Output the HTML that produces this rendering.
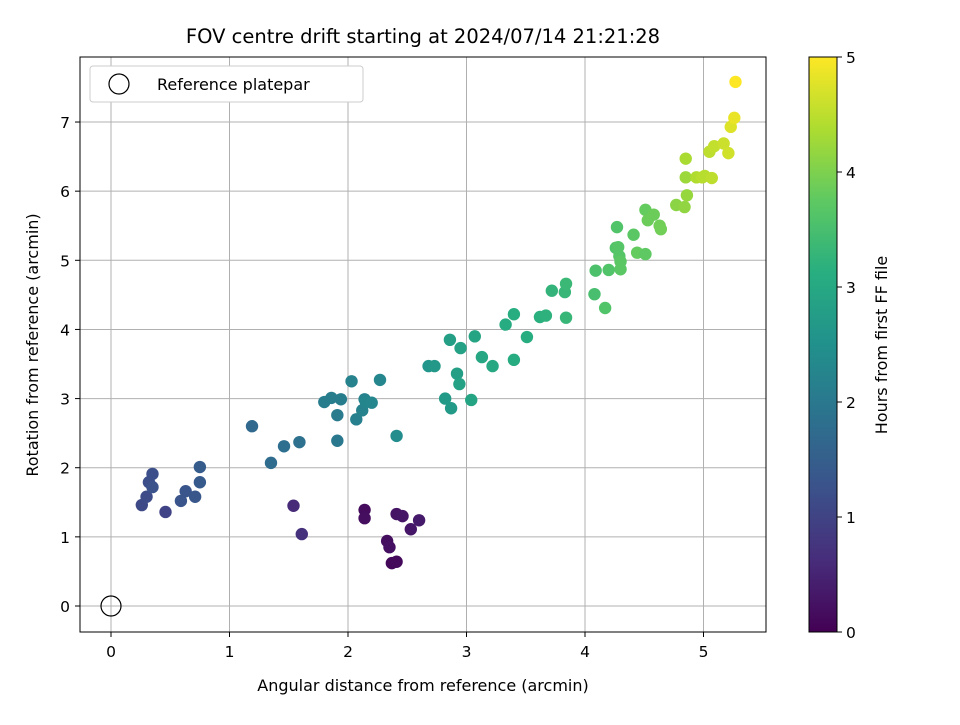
<!DOCTYPE html>
<html><head><meta charset="utf-8"><style>
body{margin:0;background:#fff;font-family:"Liberation Sans","DejaVu Sans",sans-serif}
svg text{font-family:"DejaVu Sans","Liberation Sans",sans-serif;fill:#000}
</style></head><body>
<svg id="chart" width="960" height="720" xmlns="http://www.w3.org/2000/svg">
<defs><linearGradient id="vir" x1="0" y1="1" x2="0" y2="0">
<stop offset="0" stop-color="#440154"/><stop offset="0.125" stop-color="#472d7b"/><stop offset="0.25" stop-color="#3b528b"/><stop offset="0.375" stop-color="#2c728e"/><stop offset="0.5" stop-color="#21918c"/><stop offset="0.625" stop-color="#28ae80"/><stop offset="0.75" stop-color="#5ec962"/><stop offset="0.875" stop-color="#addc30"/><stop offset="1" stop-color="#fde725"/></linearGradient></defs>
<g id="grid"></g>
<g id="pts"></g>
<rect x="80" y="57" width="686" height="575" fill="none" stroke="#000" stroke-width="1"/>
<g id="axes"></g>
<text x="423" y="43" font-size="19.5" text-anchor="middle">FOV centre drift starting at 2024/07/14 21:21:28</text>
<text x="423" y="691" font-size="16" text-anchor="middle">Angular distance from reference (arcmin)</text>
<text transform="translate(38,345) rotate(-90)" font-size="16" text-anchor="middle">Rotation from reference (arcmin)</text>
<g>
<rect x="90" y="66" width="273" height="36" rx="3" fill="#fff" stroke="#ccc"/>
<circle cx="119" cy="84" r="10" fill="none" stroke="#000" stroke-width="1.2"/>
<text x="157" y="90" font-size="16">Reference platepar</text></g>
<rect x="809" y="57" width="28" height="575" fill="url(#vir)" stroke="#000"/>
<g id="cb"></g>
<text transform="translate(887,345) rotate(-90)" font-size="16" text-anchor="middle">Hours from first FF file</text>
</svg>
<script>
const xs=[2.37,2.41,2.33,2.35,2.53,2.60,2.41,2.46,2.14,2.14,1.54,1.61,0.26,0.30,0.35,0.32,0.35,0.46,0.59,0.63,0.71,0.75,0.75,1.19,1.35,1.46,1.59,1.80,1.86,1.91,1.91,1.94,2.03,2.07,2.12,2.14,2.15,2.20,2.27,2.41,2.68,2.73,2.82,2.87,2.86,2.92,2.94,2.95,3.04,3.07,3.13,3.22,3.40,3.33,3.40,3.51,3.62,3.67,3.72,3.83,3.84,3.84,4.08,4.09,4.17,4.20,4.26,4.28,4.29,4.30,4.30,4.27,4.41,4.44,4.51,4.51,4.53,4.58,4.63,4.64,4.77,4.84,4.85,4.85,4.86,4.94,4.99,5.01,5.07,5.05,5.09,5.17,5.21,5.23,5.26,5.27];
const ys=[0.62,0.64,0.94,0.85,1.11,1.24,1.33,1.30,1.39,1.27,1.45,1.04,1.46,1.58,1.91,1.79,1.72,1.36,1.52,1.66,1.58,1.79,2.01,2.60,2.07,2.31,2.37,2.95,3.01,2.39,2.76,2.99,3.25,2.70,2.83,2.99,2.95,2.94,3.27,2.46,3.47,3.47,3.00,2.86,3.85,3.36,3.21,3.73,2.98,3.90,3.60,3.47,3.56,4.07,4.22,3.89,4.18,4.20,4.56,4.54,4.66,4.17,4.51,4.85,4.31,4.86,5.18,5.19,5.06,4.87,4.98,5.48,5.37,5.11,5.09,5.73,5.58,5.66,5.50,5.45,5.80,5.77,6.47,6.20,5.94,6.20,6.20,6.22,6.19,6.57,6.65,6.69,6.55,6.93,7.06,7.58];
const hours=[0.1,0.12,0.2,0.22,0.3,0.35,0.25,0.28,0.15,0.18,0.6,0.7,1.1,1.15,1.2,1.2,1.25,1.0,1.3,1.3,1.35,1.4,1.45,1.7,1.75,1.8,1.85,2.1,2.1,2.0,2.05,2.1,2.2,2.15,2.2,2.2,2.25,2.3,2.3,2.4,2.6,2.65,2.7,2.7,2.8,2.8,2.85,2.85,2.9,2.9,2.95,3.0,3.05,3.05,3.1,3.1,3.15,3.2,3.25,3.3,3.35,3.3,3.5,3.55,3.6,3.6,3.6,3.65,3.65,3.7,3.7,3.6,3.7,3.8,3.75,3.8,3.85,3.85,3.9,3.9,4.1,4.15,4.35,4.25,4.2,4.4,4.45,4.45,4.5,4.5,4.55,4.6,4.65,4.75,4.85,5.0];
const xTicks=[0,1,2,3,4,5], yTicks=[0,1,2,3,4,5,6,7], cTicks=[0,1,2,3,4,5];
const NS='http://www.w3.org/2000/svg';
const X=v=>111+v*118.5, Y=v=>606-v*69.14, C=v=>632-v*115;
const stops=[[68,1,84],[71,45,123],[59,82,139],[44,114,142],[33,145,140],[40,174,128],[94,201,98],[173,220,48],[253,231,37]];
function vir(h){let t=Math.max(0,Math.min(1,h/5))*8,i=Math.min(7,Math.floor(t)),f=t-i,a=stops[i],b=stops[i+1];return 'rgb('+a.map((c,k)=>Math.round(c+(b[k]-c)*f)).join(',')+')';}
function mk(tag,at,par){const e=document.createElementNS(NS,tag);for(const k in at)e.setAttribute(k,at[k]);document.getElementById(par).appendChild(e);return e;}
xTicks.forEach(t=>{const g=mk('line',{x1:X(t),x2:X(t),y1:57,y2:632,stroke:'#b0b0b0','stroke-width':1},'grid');
const k=mk('line',{x1:X(t),x2:X(t),y1:632,y2:637,stroke:'#000'},'axes');
const l=mk('text',{x:X(t),y:657,'font-size':15.5,'text-anchor':'middle'},'axes');l.textContent=t;});
yTicks.forEach(t=>{const g=mk('line',{x1:80,x2:766,y1:Y(t),y2:Y(t),stroke:'#b0b0b0','stroke-width':1},'grid');
const k=mk('line',{x1:75,x2:80,y1:Y(t),y2:Y(t),stroke:'#000'},'axes');
const l=mk('text',{x:70,y:Y(t)+6,'font-size':15.5,'text-anchor':'end'},'axes');l.textContent=t;});
cTicks.forEach(t=>{const k=mk('line',{x1:837,x2:842,y1:C(t),y2:C(t),stroke:'#000'},'cb');
const l=mk('text',{x:846,y:C(t)+6,'font-size':15.5},'cb');l.textContent=t;});
xs.forEach((x,i)=>{const c=mk('circle',{cx:X(x),cy:Y(ys[i]),r:6.2,fill:vir(hours[i])},'pts');});
const r=mk('circle',{cx:X(0),cy:Y(0),r:10,fill:'none',stroke:'#000','stroke-width':1.2},'pts');


</script>
</body></html>
